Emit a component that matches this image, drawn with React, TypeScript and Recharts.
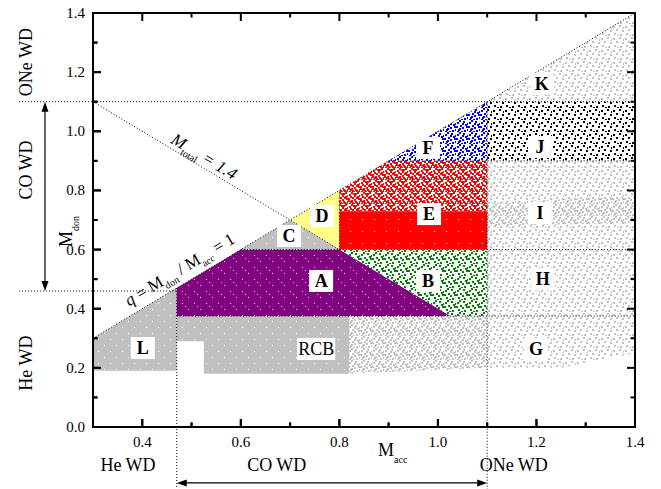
import React from 'react';
import { ComposedChart, Area, XAxis, YAxis, ReferenceLine, ReferenceDot, ReferenceArea } from 'recharts';

const SERIF = '"Liberation Serif", "Times New Roman", Times, serif';

// ---- axis ticks ----
const xTicks = [0.4, 0.5, 0.6, 0.7, 0.8, 0.9, 1.0, 1.1, 1.2, 1.3, 1.4];
const yTicks = [0, 0.1, 0.2, 0.3, 0.4, 0.5, 0.6, 0.7, 0.8, 0.9, 1.0, 1.1, 1.2, 1.3, 1.4];
const xDomain = [0.3, 1.4];
const yDomain = [0, 1.4];

// ---- populated regions: M_acc and [M_don low, M_don high] ----
const regionL = [{ x: 0.3, r: [0.19, 0.3] }, { x: 0.47, r: [0.19, 0.47] }];
const regionRCB = [
  { x: 0.47, r: [0.29, 0.375] },
  { x: 0.525, r: [0.29, 0.375] },
  { x: 0.525, r: [0.18, 0.375] },
  { x: 0.82, r: [0.18, 0.375] },
];
const regionRCBtail = [{ x: 0.82, r: [0.18, 0.375] }, { x: 1.1, r: [0.2, 0.375] }];
const regionG = [{ x: 1.1, r: [0.2, 0.375] }, { x: 1.25, r: [0.2, 0.375] }, { x: 1.4, r: [0.25, 0.375] }];
const regionH = [{ x: 1.1, r: [0.375, 0.6] }, { x: 1.4, r: [0.375, 0.6] }];
const regionI = [{ x: 1.1, r: [0.6, 0.9] }, { x: 1.4, r: [0.6, 0.9] }];
const regionIband = [{ x: 1.1, r: [0.68, 0.76] }, { x: 1.4, r: [0.69, 0.78] }];
const regionJ = [{ x: 1.1, r: [0.9, 1.1] }, { x: 1.4, r: [0.9, 1.1] }];
const regionK = [{ x: 1.1, r: [1.1, 1.1] }, { x: 1.4, r: [1.1, 1.4] }];
const regionA = [
  { x: 0.47, r: [0.375, 0.47] },
  { x: 0.6, r: [0.375, 0.6] },
  { x: 0.8, r: [0.375, 0.6] },
  { x: 1.025, r: [0.375, 0.375] },
];
const regionB = [{ x: 0.8, r: [0.6, 0.6] }, { x: 1.025, r: [0.375, 0.6] }, { x: 1.1, r: [0.375, 0.6] }];
const regionC = [{ x: 0.6, r: [0.6, 0.6] }, { x: 0.7, r: [0.6, 0.7] }, { x: 0.8, r: [0.6, 0.6] }];
const regionD = [{ x: 0.7, r: [0.7, 0.7] }, { x: 0.8, r: [0.6, 0.8] }];
const regionElow = [{ x: 0.8, r: [0.6, 0.73] }, { x: 1.1, r: [0.6, 0.73] }];
const regionEhigh = [{ x: 0.8, r: [0.73, 0.8] }, { x: 0.9, r: [0.73, 0.9] }, { x: 1.1, r: [0.73, 0.9] }];
const regionF = [{ x: 0.9, r: [0.9, 0.9] }, { x: 1.1, r: [0.9, 1.1] }];

// ---- region labels ----
const regionLabels = [
  { x: 0.763, y: 0.494, text: 'A' },
  { x: 0.98, y: 0.494, text: 'B' },
  { x: 0.698, y: 0.646, text: 'C' },
  { x: 0.765, y: 0.714, text: 'D' },
  { x: 0.982, y: 0.72, text: 'E' },
  { x: 0.98, y: 0.944, text: 'F' },
  { x: 1.199, y: 0.264, text: 'G' },
  { x: 1.213, y: 0.5, text: 'H' },
  { x: 1.207, y: 0.724, text: 'I' },
  { x: 1.207, y: 0.947, text: 'J' },
  { x: 1.211, y: 1.16, text: 'K' },
  { x: 0.401, y: 0.267, text: 'L' },
];
const rcbLabel = { x: 0.753, y: 0.264, text: 'RCB' };

// ---- boundary lines (dotted) ----
const dottedLines = [
  [{ x: 0.3, y: 0.3 }, { x: 1.4, y: 1.4 }],
  [{ x: 0.3, y: 1.1 }, { x: 0.8, y: 0.6 }],
  [{ x: 0.15, y: 1.1 }, { x: 1.4, y: 1.1 }],
  [{ x: 0.15, y: 0.46 }, { x: 0.47, y: 0.46 }],
  [{ x: 0.47, y: 0.47 }, { x: 0.47, y: -0.21 }],
  [{ x: 1.1, y: 1.1 }, { x: 1.1, y: -0.21 }],
  [{ x: 0.47, y: 0.375 }, { x: 1.4, y: 0.375 }],
  [{ x: 0.6, y: 0.6 }, { x: 1.4, y: 0.6 }],
  [{ x: 0.9, y: 0.9 }, { x: 1.4, y: 0.9 }],
  [{ x: 0.8, y: 0.6 }, { x: 0.8, y: 0.8 }],
];
const arrows = [
  [{ x: 0.2026, y: 1.1 }, { x: 0.2026, y: 0.46 }],
  [{ x: 0.47, y: -0.189 }, { x: 1.1, y: -0.189 }],
];
const frameLines = [
  [{ x: xDomain[0], y: yDomain[1] }, { x: xDomain[1], y: yDomain[1] }],
  [{ x: xDomain[1], y: yDomain[0] }, { x: xDomain[1], y: yDomain[1] }],
];

// ---- outer annotations ----
const sideLabels = [
  { x: 0.164, y: 1.234, text: 'ONe WD' },
  { x: 0.164, y: 0.869, text: 'CO WD' },
  { x: 0.164, y: 0.216, text: 'He WD' },
];
const bottomLabels = [
  { x: 0.371, y: -0.1285, text: 'He WD' },
  { x: 0.673, y: -0.1285, text: 'CO WD' },
  { x: 1.154, y: -0.1285, text: 'ONe WD' },
];
const mAccPos = { x: 0.8785, y: -0.098 };
const mDonPos = { x: 0.2574, y: 0.609 };
const mTotalPos = { x: 0.5253, y: 0.913 };
const qPos = { x: 0.4766, y: 0.531 };

// ---- inward tick marks on all four sides ----
const isMajor = (v: number) => Math.round(v * 10) % 2 === 0;
const tickMarks = [
  ...xTicks.map((v) => ({ x: v, y: yDomain[0], dx: 0, dy: -1, major: isMajor(v) })),
  ...xTicks.map((v) => ({ x: v, y: yDomain[1], dx: 0, dy: 1, major: isMajor(v) })),
  ...yTicks.map((v) => ({ x: xDomain[0], y: v, dx: 1, dy: 0, major: isMajor(v) })),
  ...yTicks.map((v) => ({ x: xDomain[1], y: v, dx: -1, dy: 0, major: isMajor(v) })),
];

// ---- texture patterns (styling) ----
const dotsS = [[1, 2], [7, 1], [4, 5], [10, 6], [2, 9], [8, 10], [5, 11], [11, 3]];
const dotsE = [[3, 0], [9, 4], [0, 6], [6, 7], [3, 8], [11, 9], [6, 3], [1, 11]];
const dotsM = [[5, 1], [9, 0], [2, 4], [8, 5], [0, 8], [10, 11], [4, 10], [7, 9]];
const specks = [[2, 3], [8, 9], [5, 6]];

const Pat = ({ id, color, dots, size, bg }: any) => (
  <pattern id={id} width={12} height={12} patternUnits="userSpaceOnUse">
    {bg ? <rect width={12} height={12} fill={bg} /> : null}
    {dots.map((d: number[], i: number) => (
      <rect key={i} x={d[0]} y={d[1]} width={size} height={size} fill={color} />
    ))}
  </pattern>
);

const Defs = () => (
  <defs>
    <Pat id="pGraySparse" color="#c0c0c0" dots={dotsS} size={2} />
    <Pat id="pGrayMed" color="#c0c0c0" dots={[...dotsS, ...dotsE]} size={2} />
    <Pat id="pGrayDense" bg="#c0c0c0" color="#ffffff" dots={specks.slice(0, 2)} size={1} />
    <Pat id="pPurple" bg="#800080" color="#ffffff" dots={specks} size={1} />
    <Pat id="pRed" bg="#ff0000" color="#ffffff" dots={specks.slice(0, 1)} size={1} />
    <Pat id="pRedMed" color="#ff0000" dots={[...dotsS, ...dotsE, ...dotsM]} size={2} />
    <Pat id="pGreen" color="#008000" dots={[...dotsS, ...dotsE.slice(0, 4)]} size={2} />
    <Pat id="pBlue" color="#0000ff" dots={[...dotsS, ...dotsE]} size={2} />
    <Pat id="pBlack" color="#000000" dots={dotsS} size={2} />
    <Pat id="pYellow" bg="#ffff88" color="#ffffff" dots={specks.slice(0, 2)} size={1} />
  </defs>
);

const areas: [any[], string][] = [
  [regionL, 'url(#pGrayDense)'],
  [regionRCB, 'url(#pGrayDense)'],
  [regionRCBtail, 'url(#pGrayMed)'],
  [regionG, 'url(#pGraySparse)'],
  [regionH, 'url(#pGraySparse)'],
  [regionI, 'url(#pGraySparse)'],
  [regionIband, 'url(#pGrayMed)'],
  [regionJ, 'url(#pBlack)'],
  [regionK, 'url(#pGraySparse)'],
  [regionA, 'url(#pPurple)'],
  [regionB, 'url(#pGreen)'],
  [regionC, 'url(#pGrayDense)'],
  [regionD, 'url(#pYellow)'],
  [regionElow, 'url(#pRed)'],
  [regionEhigh, 'url(#pRedMed)'],
  [regionF, 'url(#pBlue)'],
];

const BottomTick = (p: any) => {
  const v = p.payload.value;
  const m = isMajor(v);
  return (
    <g>
      <line x1={p.x} x2={p.x} y1={p.y} y2={p.y - (m ? 8 : 4.5)} stroke="#000" strokeWidth={2} />
      {m ? (
        <text x={p.x} y={p.y + 20} textAnchor="middle" fontSize={15} fontFamily={SERIF} fill="#000">
          {v.toFixed(1)}
        </text>
      ) : null}
    </g>
  );
};
const LeftTick = (p: any) => {
  const v = p.payload.value;
  const m = isMajor(v);
  return (
    <g>
      <line x1={p.x} x2={p.x + (m ? 8 : 4.5)} y1={p.y} y2={p.y} stroke="#000" strokeWidth={2} />
      {m ? (
        <text x={p.x - 8} y={p.y + 5} textAnchor="end" fontSize={15} fontFamily={SERIF} fill="#000">
          {v.toFixed(1)}
        </text>
      ) : null}
    </g>
  );
};

const tickShape = (dx: number, dy: number, major: boolean) => (p: any) => {
  const len = major ? 8 : 4.5;
  return (
    <line x1={p.cx} y1={p.cy} x2={p.cx + dx * len} y2={p.cy + dy * len} stroke="#000" strokeWidth={2} />
  );
};

const ArrowShape = (p: any) => {
  const { x1, y1, x2, y2 } = p;
  const dx = x2 - x1;
  const dy = y2 - y1;
  const L = Math.hypot(dx, dy) || 1;
  const ux = dx / L;
  const uy = dy / L;
  const hl = 10;
  const hw = 3.5;
  const head = (tx: number, ty: number, sx: number, sy: number) =>
    `${tx},${ty} ${tx - sx * hl - sy * hw},${ty - sy * hl + sx * hw} ${tx - sx * hl + sy * hw},${ty - sy * hl - sx * hw}`;
  return (
    <g>
      <line x1={x1 + ux * 5} y1={y1 + uy * 5} x2={x2 - ux * 5} y2={y2 - uy * 5} stroke="#000" strokeWidth={1.2} />
      <polygon points={head(x2, y2, ux, uy)} fill="#000" />
      <polygon points={head(x1, y1, -ux, -uy)} fill="#000" />
    </g>
  );
};

const FrameShape = (p: any) => (
  <line x1={p.x1} y1={p.y1} x2={p.x2} y2={p.y2} stroke="#000" strokeWidth={2} />
);

const boxLabel = (text: string, w: number, bold: boolean) => (p: any) => (
  <g>
    <rect x={p.cx - w / 2} y={p.cy - 11} width={w} height={22} fill="#fff" />
    <text
      x={p.cx}
      y={p.cy + 6}
      textAnchor="middle"
      fontSize={18}
      fontWeight={bold ? 'bold' : 'normal'}
      fontFamily={SERIF}
      fill="#000"
    >
      {text}
    </text>
  </g>
);

export default function App() {
  return (
    <div style={{ position: 'absolute', left: 0, top: 0, width: 661, height: 489, background: '#fff' }}>
      <ComposedChart width={661} height={489} margin={{ top: 13, right: 26, bottom: 32, left: 0 }}>
        <XAxis
          dataKey="x"
          type="number"
          domain={xDomain}
          ticks={xTicks}
          interval={0}
          allowDataOverflow
          height={30}
          tickSize={0}
          tickMargin={0}
          tickLine={false}
          tick={BottomTick}
          axisLine={{ stroke: '#000', strokeWidth: 2 }}
        />
        <YAxis
          type="number"
          domain={yDomain}
          ticks={yTicks}
          interval={0}
          allowDataOverflow
          width={93}
          tickSize={0}
          tickMargin={0}
          tickLine={false}
          tick={LeftTick}
          axisLine={{ stroke: '#000', strokeWidth: 2 }}
        />
        {areas.map(([d, fill], i) => (
          <Area
            key={'a' + i}
            data={d}
            dataKey="r"
            type="linear"
            stroke="none"
            fill={fill}
            fillOpacity={1}
            dot={false}
            activeDot={false}
            isAnimationActive={false}
          />
        ))}
        <ReferenceArea
          x1={xDomain[0]}
          x2={xDomain[1]}
          y1={yDomain[0]}
          y2={yDomain[1]}
          ifOverflow="visible"
          fill="none"
          fillOpacity={0}
          stroke="#000"
          strokeWidth={2}
        />
        {dottedLines.map((seg, i) => (
          <ReferenceLine
            key={'l' + i}
            segment={seg}
            ifOverflow="visible"
            stroke="#000"
            strokeWidth={1}
            strokeDasharray="1 2"
          />
        ))}
        {frameLines.map((seg, i) => (
          <ReferenceLine key={'f' + i} segment={seg} ifOverflow="visible" shape={FrameShape} />
        ))}
        {arrows.map((seg, i) => (
          <ReferenceLine key={'ar' + i} segment={seg} ifOverflow="visible" shape={ArrowShape} />
        ))}
        <ReferenceDot x={0.3} y={0} r={0} ifOverflow="visible" shape={() => <Defs />} />
        {tickMarks.map((t, i) => (
          <ReferenceDot key={'tm' + i} x={t.x} y={t.y} r={0} ifOverflow="visible" shape={tickShape(t.dx, t.dy, t.major)} />
        ))}
        {regionLabels.map((l, i) => (
          <ReferenceDot key={'rl' + i} x={l.x} y={l.y} r={0} ifOverflow="visible" shape={boxLabel(l.text, 24, true)} />
        ))}
        <ReferenceDot x={rcbLabel.x} y={rcbLabel.y} r={0} ifOverflow="visible" shape={boxLabel(rcbLabel.text, 38, false)} />
        {sideLabels.map((l, i) => (
          <ReferenceDot
            key={'sl' + i}
            x={l.x}
            y={l.y}
            r={0}
            ifOverflow="visible"
            shape={(p: any) => (
              <text
                x={p.cx}
                y={p.cy}
                dy="0.35em"
                transform={`rotate(-90, ${p.cx}, ${p.cy})`}
                textAnchor="middle"
                fontSize={18}
                fontFamily={SERIF}
                fill="#000"
              >
                {l.text}
              </text>
            )}
          />
        ))}
        {bottomLabels.map((l, i) => (
          <ReferenceDot
            key={'bl' + i}
            x={l.x}
            y={l.y}
            r={0}
            ifOverflow="visible"
            shape={(p: any) => (
              <text x={p.cx} y={p.cy} dy="0.35em" textAnchor="middle" fontSize={18} fontFamily={SERIF} fill="#000">
                {l.text}
              </text>
            )}
          />
        ))}
        <ReferenceDot
          x={mAccPos.x}
          y={mAccPos.y}
          r={0}
          ifOverflow="visible"
          shape={(p: any) => (
            <text x={p.cx} y={p.cy} fontSize={18} fontFamily={SERIF} fill="#000">
              M<tspan dy={7} fontSize={10}>acc</tspan>
            </text>
          )}
        />
        <ReferenceDot
          x={mDonPos.x}
          y={mDonPos.y}
          r={0}
          ifOverflow="visible"
          shape={(p: any) => (
            <text x={p.cx} y={p.cy} transform={`rotate(-90, ${p.cx}, ${p.cy})`} fontSize={18} fontFamily={SERIF} fill="#000">
              M<tspan dy={7} fontSize={10}>don</tspan>
            </text>
          )}
        />
        <ReferenceDot
          x={mTotalPos.x}
          y={mTotalPos.y}
          r={0}
          ifOverflow="visible"
          shape={(p: any) => (
            <g transform={`translate(${p.cx}, ${p.cy}) rotate(31)`}>
              <text x={0} y={5} textAnchor="middle" fontSize={17} fontFamily={SERIF} fontStyle="italic" fill="#000">
                M<tspan dy={5} fontSize={10} fontStyle="normal">total</tspan>
                <tspan dy={-5}> = 1.4</tspan>
              </text>
            </g>
          )}
        />
        <ReferenceDot
          x={qPos.x}
          y={qPos.y}
          r={0}
          ifOverflow="visible"
          shape={(p: any) => (
            <g transform={`translate(${p.cx}, ${p.cy}) rotate(-31)`}>
              <text x={0} y={5} textAnchor="middle" fontSize={17} fontFamily={SERIF} fill="#000">
                <tspan fontStyle="italic">q</tspan> = M<tspan dy={5} fontSize={10}>don</tspan>
                <tspan dy={-5}> / M</tspan>
                <tspan dy={5} fontSize={10}>acc</tspan>
                <tspan dy={-5}> = 1</tspan>
              </text>
            </g>
          )}
        />
      </ComposedChart>
    </div>
  );
}
